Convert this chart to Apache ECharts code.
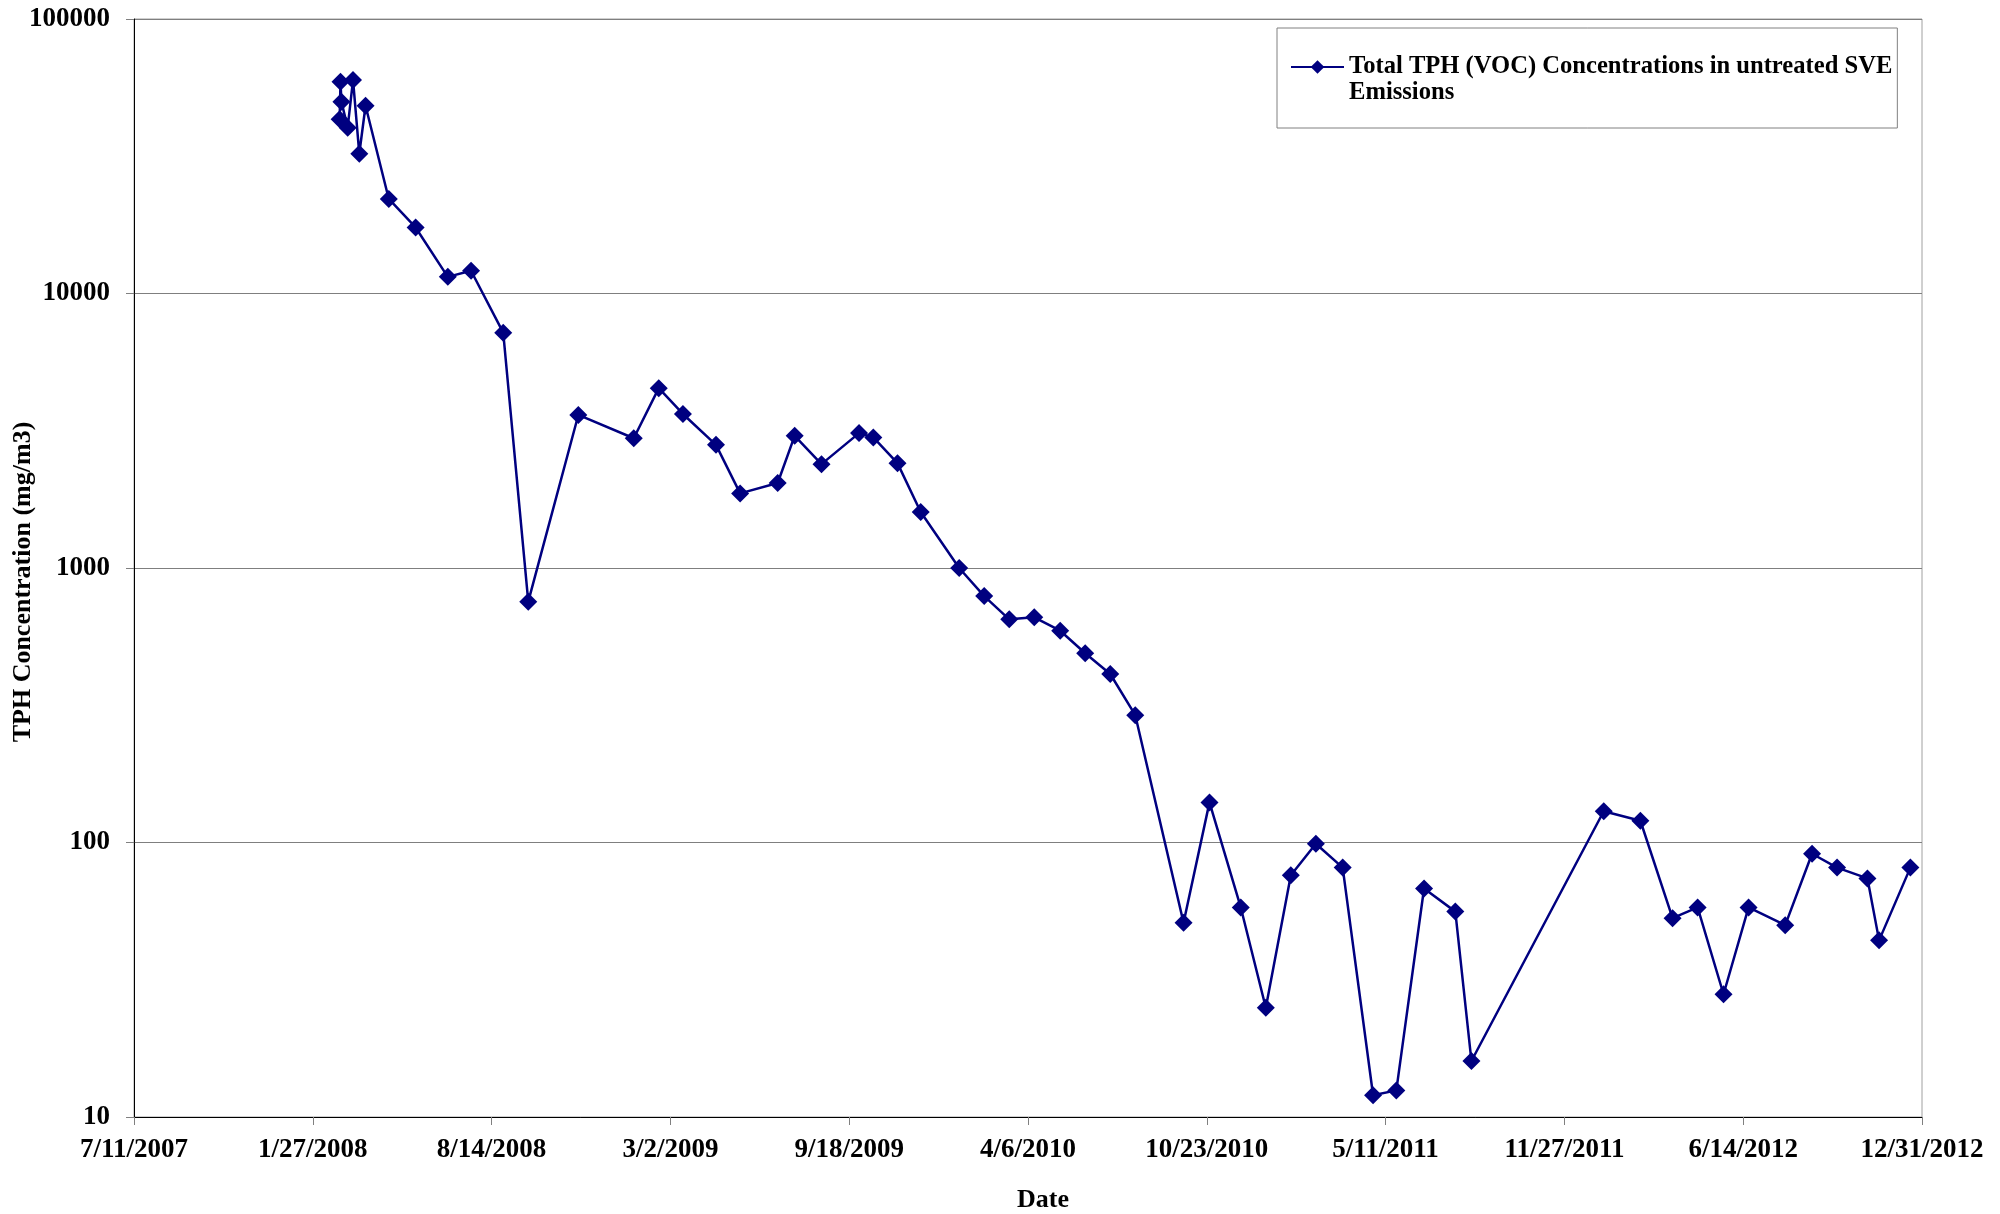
<!DOCTYPE html>
<html>
<head>
<meta charset="utf-8">
<title>Total TPH (VOC) Concentrations</title>
<script src="https://cdn.jsdelivr.net/npm/echarts@6/dist/echarts.min.js"></script>
<style>
  html, body { margin: 0; padding: 0; background: #ffffff; }
  #chart { width: 2000px; height: 1214px; }
</style>
</head>
<body>
<div id="chart"></div>
<script>
// Sampling dates (M/D/YYYY) and TPH concentrations in untreated SVE emissions (mg/m3)
const sampleDates = [
  '2/26/2008', '2/27/2008', '2/28/2008', '3/6/2008', '3/12/2008', '3/19/2008', '3/26/2008',
  '4/21/2008', '5/21/2008', '6/26/2008', '7/22/2008', '8/27/2008', '9/24/2008', '11/19/2008',
  '1/20/2009', '2/17/2009', '3/16/2009', '4/22/2009', '5/19/2009', '6/30/2009', '7/19/2009',
  '8/18/2009', '9/29/2009', '10/15/2009', '11/11/2009', '12/7/2009',
  '1/19/2010', '2/16/2010', '3/16/2010', '4/13/2010', '5/12/2010', '6/9/2010', '7/7/2010',
  '8/4/2010', '9/27/2010', '10/26/2010', '11/30/2010', '12/28/2010',
  '1/25/2011', '2/22/2011', '3/24/2011', '4/27/2011', '5/23/2011', '6/23/2011', '7/28/2011',
  '8/15/2011',
  '1/10/2012', '2/20/2012', '3/27/2012', '4/24/2012', '5/23/2012', '6/20/2012', '7/31/2012',
  '8/30/2012', '9/27/2012', '10/31/2012', '11/13/2012', '12/18/2012'
];
const tphValues = [
  43100, 59100, 50000, 40200, 60000, 32300, 48300,
  22100, 17400, 11500, 12100, 7200, 754, 3610,
  2970, 4520, 3640, 2810, 1870, 2040, 3030,
  2390, 3100, 2990, 2410, 1600,
  1000, 790, 650, 661, 591, 489, 411,
  291, 51, 140, 58, 25,
  76, 99, 81, 12, 12.5, 68, 56,
  16,
  130, 120, 53, 58, 28, 58, 50,
  91, 81, 74, 44, 81
];

const seriesName = 'Total TPH (VOC) Concentrations in untreated SVE Emissions';
const axisStartDate = '7/11/2007';   // first date tick; ticks every 200 days
const axisSpanDays = 2000;
const axisStepDays = 200;

const DAY_MS = 86400000;
function parseDate(s) {
  const [m, d, y] = s.split('/').map(Number);
  return Date.UTC(y, m - 1, d);
}
const origin = parseDate(axisStartDate);
function formatDay(offset) {
  const t = new Date(origin + Math.round(offset) * DAY_MS);
  return (t.getUTCMonth() + 1) + '/' + t.getUTCDate() + '/' + t.getUTCFullYear();
}

const points = sampleDates.map((s, i) => [(parseDate(s) - origin) / DAY_MS, tphValues[i]]);

const FONT = "'Liberation Serif', 'Times New Roman', serif";
const NAVY = '#000080';

const chart = echarts.init(document.getElementById('chart'), null, { renderer: 'canvas' });
chart.setOption({
  animation: false,
  backgroundColor: '#ffffff',
  grid: {
    left: 134, right: 78, top: 19, bottom: 97,
    outerBoundsMode: 'none',
    containLabel: false,
    show: true, borderColor: '#a0a0a0', borderWidth: 1, backgroundColor: 'transparent'
  },
  legend: {
    left: 1277, top: 28,
    padding: [0, 5, 22, 13],
    itemGap: 0,
    itemWidth: 53, itemHeight: 17,
    backgroundColor: '#ffffff',
    borderColor: '#808080', borderWidth: 1,
    // wrap the long series name; the leading blank line keeps the first line level with the key
    formatter: name => ' \n' + name.replace(' Emissions', '\nEmissions'),
    textStyle: {
      fontFamily: FONT, fontWeight: 'bold', fontSize: 24.6, color: '#000',
      lineHeight: 26
    },
    data: [seriesName]
  },
  xAxis: {
    type: 'value',
    min: 0, max: axisSpanDays, interval: axisStepDays,
    name: 'Date',
    nameLocation: 'middle',
    nameGap: 70,
    nameMoveOverlap: false,
    nameTextStyle: { fontFamily: FONT, fontWeight: 'bold', fontSize: 26, color: '#000', padding: [0, 0, 0, 30] },
    axisLine: { show: true, onZero: false, lineStyle: { color: '#000', width: 1 } },
    axisTick: { show: true, length: 8, lineStyle: { color: '#808080', width: 1 } },
    axisLabel: {
      margin: 20, fontFamily: FONT, fontWeight: 'bold', fontSize: 27, color: '#000',
      showMinLabel: true, showMaxLabel: true,
      formatter: v => formatDay(v)
    },
    splitLine: { show: false }
  },
  yAxis: {
    type: 'log', logBase: 10,
    min: 10, max: 100000,
    name: 'TPH Concentration (mg/m3)',
    nameLocation: 'middle',
    nameRotate: 90,
    nameGap: 98,
    nameMoveOverlap: false,
    nameTextStyle: { fontFamily: FONT, fontWeight: 'bold', fontSize: 26, color: '#000', padding: [0, 28, 0, 0] },
    axisLine: { show: true, lineStyle: { color: '#000', width: 1 } },
    axisTick: { show: true, length: 8, lineStyle: { color: '#808080', width: 1 } },
    minorTick: { show: false },
    axisLabel: {
      margin: 24, fontFamily: FONT, fontWeight: 'bold', fontSize: 27, color: '#000',
      formatter: v => String(Math.round(v))
    },
    splitLine: { show: true, lineStyle: { color: '#7f7f7f', width: 1 } }
  },
  series: [{
    name: seriesName,
    type: 'line',
    data: points,
    symbol: 'diamond',
    symbolSize: 18,
    showAllSymbol: true,
    lineStyle: { color: NAVY, width: 2.5 },
    itemStyle: { color: NAVY, borderWidth: 0 },
    emphasis: { disabled: true }
  }]
});
</script>
</body>
</html>
